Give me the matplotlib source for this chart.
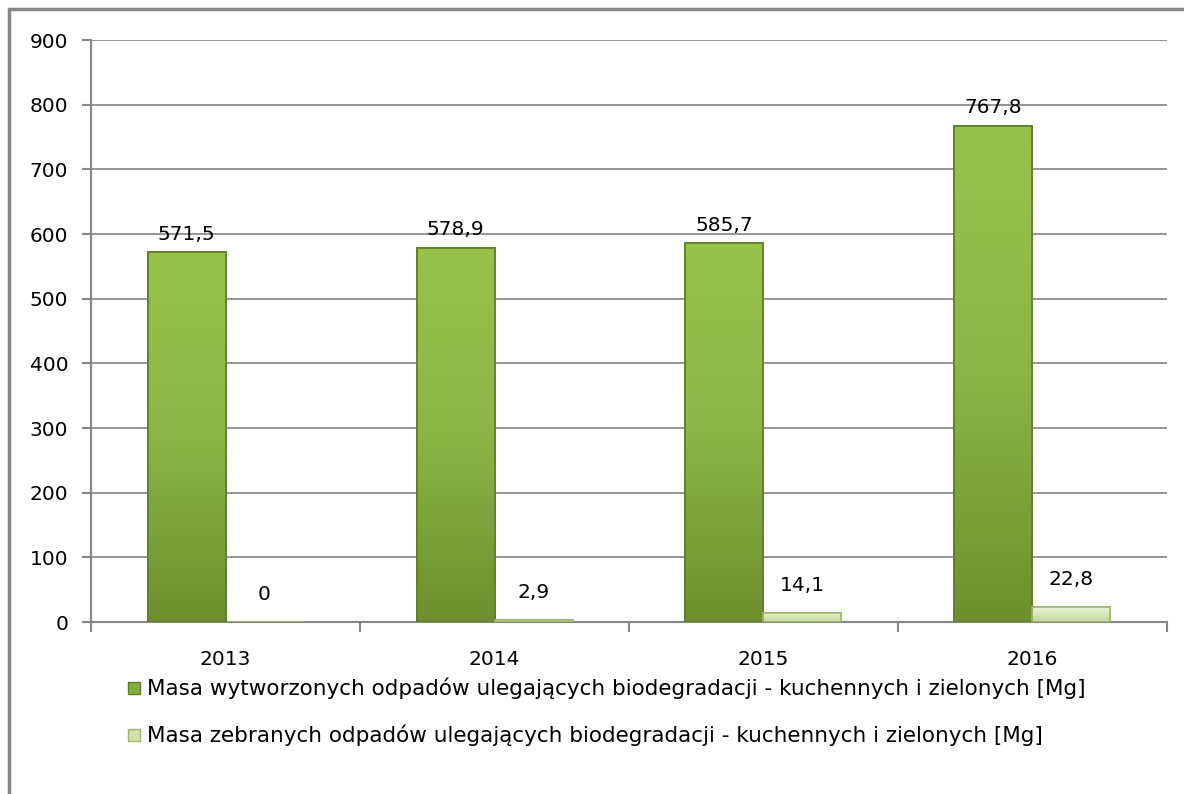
import matplotlib
matplotlib.use("Agg")
import matplotlib.pyplot as plt
import numpy as np
from matplotlib.patches import Rectangle
from matplotlib.colors import LinearSegmentedColormap

# data
years = ["2013", "2014", "2015", "2016"]
generated = [571.5, 578.9, 585.7, 767.8]
collected = [0, 2.9, 14.1, 22.8]
series_names = [
    "Masa wytworzonych odpadów ulegających biodegradacji - kuchennych i zielonych [Mg]",
    "Masa zebranych odpadów ulegających biodegradacji - kuchennych i zielonych [Mg]",
]

plt.rcParams['font.family'] = ['DejaVu Sans']

fig = plt.figure(figsize=(11.84, 7.94), dpi=100)
ax = fig.add_axes([0.0769, 0.2166, 0.9087, 0.733])

x = np.arange(len(years))
w = 0.29
dark = "#86ad3e"
light = "#d3e2ad"
dark_edge = "#5f7c28"
light_edge = "#9fb56e"

b1 = ax.bar(x - w / 2, generated, w, color=dark, edgecolor=dark_edge, linewidth=1.2, zorder=3)
b2 = ax.bar(x + w / 2, collected, w, color=light, edgecolor=light_edge, linewidth=1.2, zorder=3)

# vertical gradient inside the bars, lighter at the top
grad = np.linspace(0, 1, 256).reshape(-1, 1)
cm_dark = LinearSegmentedColormap.from_list("d", ["#6e8f2f", "#8bb545", "#99c24c"])
cm_light = LinearSegmentedColormap.from_list("l", ["#c2d699", "#edf5d6"])
for rects, cm in ((b1, cm_dark), (b2, cm_light)):
    for r in rects:
        if r.get_height() <= 0:
            continue
        x0, hgt, wd = r.get_x(), r.get_height(), r.get_width()
        im = ax.imshow(grad, cmap=cm, origin="lower", aspect="auto",
                       extent=(x0, x0 + wd, 0, hgt), zorder=3.5)
        im.set_clip_path(r)
        ax.add_patch(Rectangle((x0, 0), wd, hgt, fill=False, edgecolor=r.get_edgecolor(),
                               lw=1.2, zorder=4))

def fmt(v):
    s = ("%.1f" % v).replace(".", ",")
    return "0" if v == 0 else s

for rects, vals, off in ((b1, generated, 6), (b2, collected, 13)):
    for r, v in zip(rects, vals):
        ax.annotate(fmt(v), (r.get_x() + r.get_width() / 2, v), xytext=(0, off),
                    textcoords="offset points", ha="center", va="bottom", fontsize=14.5)

ax.set_xlim(-0.5, 3.5)
ax.set_ylim(0, 900)
ax.set_yticks(range(0, 901, 100))
ax.set_xticks(x)
ax.set_xticklabels(years)
ax.set_xticks(np.arange(-0.5, 4, 1), minor=True)
ax.tick_params(axis="x", which="major", length=0, pad=20, labelsize=14.5)
ax.tick_params(axis="x", which="minor", length=7, color="#868686", width=1.5)
ax.tick_params(axis="y", length=6.5, color="#868686", width=1.5, labelsize=14.5, pad=10)
ax.grid(axis="y", color="#8c8c8c", linewidth=1.3, zorder=0)
for s in ("top", "right"):
    ax.spines[s].set_visible(False)
for s in ("left", "bottom"):
    ax.spines[s].set_color("#868686")
    ax.spines[s].set_linewidth(1.5)

# legend below the plot
for i, (name, col, ec) in enumerate(zip(series_names, [dark, light], [dark_edge, light_edge])):
    y = 688 + i * 47
    fig.patches.append(Rectangle((128 / 1184, (794 - y - 6) / 794), 12 / 1184, 12 / 794,
                                 transform=fig.transFigure, facecolor=col, edgecolor=ec, lw=1))
    fig.text(147 / 1184, (794 - y) / 794, name, fontsize=15.5, va="center", ha="left")

# outer frame
fig.patches.append(Rectangle((9 / 1184, -0.05), 1.2, (794 - 9) / 794 + 0.05,
                             transform=fig.transFigure, fill=False, edgecolor="#868686", lw=2.5))

fig.savefig("out.png", dpi=100)
